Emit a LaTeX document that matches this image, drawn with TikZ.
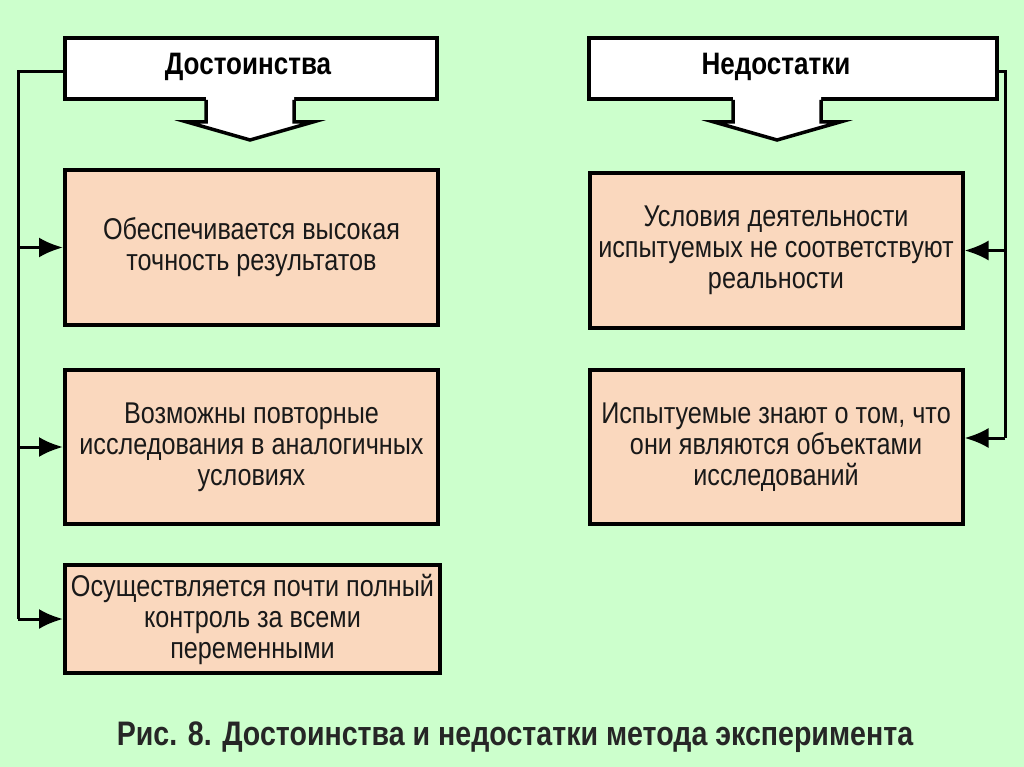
\documentclass[tikz,border=0pt]{standalone}
\usepackage{fontspec}
\setmainfont{Liberation Sans}[FakeStretch=0.84]
\usetikzlibrary{positioning,arrows.meta}

\definecolor{bggreen}{RGB}{204,255,204}
\definecolor{peach}{RGB}{250,216,190}
\tikzset{
  headbox/.style={draw, line width=4pt, fill=white, minimum height=61pt},
  headtext/.style={font=\bfseries\fontsize{31}{34}\selectfont},
  itembox/.style={draw, line width=4pt, fill=peach, minimum width=373pt, align=center, text=black!90, font=\fontsize{30}{31}\selectfont},
  rail/.style={line width=3pt},
  feed/.style={line width=3pt, -{Latex[length=24pt,width=20pt]}}
}

\begin{document}
\begin{tikzpicture}[x=1pt,y=-1pt]
\fill[bggreen] (0,0) rectangle (1024,767);
\useasboundingbox (0,0) rectangle (1024,767);

\node[headbox, minimum width=372pt] (hl) at (251,68.5) {};
\node[headbox, minimum width=408pt] (hr) at (793,69) {};
\node[headtext] (hlt) at (248,67) {Достоинства};
\node[headtext] (hrt) at (776,67) {Недостатки};

\node[itembox, minimum height=155pt] (l1) at (251.5,247.5) {Обеспечивается высокая\\точность результатов};
\node[itembox, minimum height=154pt] (l2) at (251.5,447) {Возможны повторные\\исследования в аналогичных\\условиях};
\node[itembox, minimum height=108pt, minimum width=375pt] (l3) at (252.5,619) {Осуществляется почти полный\\контроль за всеми\\переменными};

\node[itembox, minimum height=155pt] (r1) at (776,250.5) {Условия деятельности\\испытуемых не соответствуют\\реальности};
\node[itembox, minimum height=154pt] (r2) at (776,447) {Испытуемые знают о том, что\\они являются объектами\\исследований};

\foreach \c in {250, 777}{
  \fill[white] (\c-44,96) -- (\c-44,122) -- (\c-63,122) -- (\c,140) -- (\c+63,122) -- (\c+44,122) -- (\c+44,96) -- cycle;
  \draw[line width=3.5pt, line join=miter] (\c-44,100) -- (\c-44,122) -- (\c-63,122) -- (\c,140) -- (\c+63,122) -- (\c+44,122) -- (\c+44,100);
}

\coordinate (lrail) at (18,72);
\draw[rail] (hl.west |- lrail) -- (lrail) -- (lrail |- l3.west);
\draw[feed] (lrail |- l1.west) -- (l1.west);
\draw[feed] (lrail |- l2.west) -- (l2.west);
\draw[feed] (lrail |- l3.west) -- (l3.west);

\coordinate (rrail) at (1005,72);
\draw[rail] (hr.east |- rrail) -- (rrail) -- (rrail |- 0,438);
\draw[feed] (rrail |- r1.east) -- (r1.east);
\draw[feed] (rrail |- 0,438) -- (r2.east |- 0,438);

\node[font=\bfseries\fontsize{34}{36}\selectfont, text=black!85] (cap) at (515,737) {Рис. 8. Достоинства и недостатки метода эксперимента};
\end{tikzpicture}
\end{document}
